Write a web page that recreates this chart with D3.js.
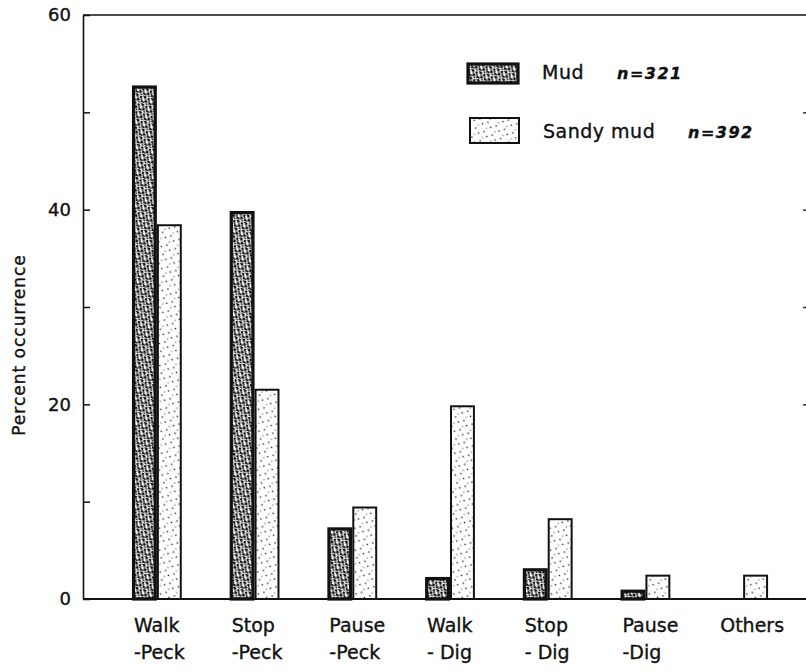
<!DOCTYPE html>
<html>
<head>
<meta charset="utf-8">
<script src="https://cdn.jsdelivr.net/npm/d3@7"></script>
<style>
  body { margin: 0; background: #fff; }
  text { font-family: 'DejaVu Sans', sans-serif; fill: #111; stroke: #111; stroke-width: 0.35; }
</style>
</head>
<body>
<div id="chart"></div>
<script>
// data
const categories = ['Walk\n-Peck', 'Stop\n-Peck', 'Pause\n-Peck', 'Walk\n- Dig', 'Stop\n- Dig', 'Pause\n-Dig', 'Others'];
const mudValues = [52.6, 39.7, 7.2, 2.1, 3.0, 0.8, 0];
const sandyValues = [38.4, 21.5, 9.4, 19.8, 8.2, 2.4, 2.4];
const seriesNames = ['Mud', 'Sandy mud'];
const seriesN = ['n=321', 'n=392'];
const yMajorTicks = [0, 20, 40, 60];
const yAllTicks = [0, 10, 20, 30, 40, 50, 60];
const rightTicks = [20, 30, 40, 50];

const W = 806, H = 672;
const axisX = 83;

const svg = d3.select('#chart').append('svg')
  .attr('width', W).attr('height', H)
  .style('display', 'block');

// textures for the stippled bars
const defs = svg.append('defs');
const mudPat = defs.append('pattern').attr('id', 'mud')
  .attr('patternUnits', 'userSpaceOnUse').attr('width', 8).attr('height', 8)
  .attr('patternTransform', 'rotate(17)');
mudPat.append('rect').attr('width', 8).attr('height', 8).attr('fill', '#fff');
[[1, 1, 1.5], [5, 2, 1.3], [3, 5, 1.6], [7, 6, 1.2], [0.5, 6.5, 1.1], [6, 4, 0.9], [2, 3, 0.8], [4.5, 7.5, 1.0], [7.5, 0.5, 0.8]]
  .forEach(([cx, cy, r]) => mudPat.append('circle').attr('cx', cx).attr('cy', cy).attr('r', r).attr('fill', '#111'));

const sandPat = defs.append('pattern').attr('id', 'sand')
  .attr('patternUnits', 'userSpaceOnUse').attr('width', 9).attr('height', 10)
  .attr('patternTransform', 'rotate(23)');
sandPat.append('rect').attr('width', 9).attr('height', 10).attr('fill', '#fff');
[[2, 2, 0.8], [6.5, 5.5, 0.8], [3, 8, 0.6]]
  .forEach(([cx, cy, r]) => sandPat.append('circle').attr('cx', cx).attr('cy', cy).attr('r', r).attr('fill', '#111'));

const fills = { 'Mud': 'url(#mud)', 'Sandy mud': 'url(#sand)' };
const strokes = { 'Mud': 3.2, 'Sandy mud': 2 };

const y = d3.scaleLinear().domain([0, 60]).range([599, 15]);
const x0 = d3.scaleBand().domain(categories).range([108, 792])
  .paddingInner(0.49).paddingOuter(0.245);
const x1 = d3.scaleBand().domain(seriesNames).range([0, x0.bandwidth()]);

// frame line on top
svg.append('line').attr('x1', axisX).attr('x2', W).attr('y1', y(60)).attr('y2', y(60))
  .attr('stroke', '#111').attr('stroke-width', 1.5);

// left axis with inward ticks
const yAxis = d3.axisLeft(y).tickValues(yAllTicks)
  .tickSizeInner(-7).tickSizeOuter(0).tickPadding(12)
  .tickFormat(d => yMajorTicks.includes(d) ? d : '');
const ga = svg.append('g').attr('transform', `translate(${axisX},0)`).call(yAxis);
ga.select('.domain').attr('stroke', '#111').attr('stroke-width', 1.6);
ga.selectAll('.tick line').attr('stroke', '#111').attr('stroke-width', 1.5);
ga.selectAll('.tick text').attr('font-size', 18).attr('font-family', 'DejaVu Sans').attr('fill', '#111');

// right axis, off the page; only its inward ticks show
const rAxis = d3.axisRight(y).tickValues(rightTicks).tickSizeInner(-5).tickSizeOuter(0).tickFormat('');
const gr = svg.append('g').attr('transform', `translate(${W + 2},0)`).call(rAxis);
gr.select('.domain').remove();
gr.selectAll('.tick line').attr('stroke', '#333').attr('stroke-width', 1.5);

// bars
const rows = categories.map((c, i) => ({ cat: c, vals: [mudValues[i], sandyValues[i]] }));
const groups = svg.append('g').selectAll('g').data(rows).enter().append('g')
  .attr('transform', d => `translate(${x0(d.cat)},0)`);
groups.selectAll('rect')
  .data(d => d.vals.map((v, j) => ({ key: seriesNames[j], v })).filter(b => b.v > 0))
  .enter().append('rect')
  .attr('x', b => x1(b.key) + strokes[b.key] / 2)
  .attr('y', b => y(b.v))
  .attr('width', b => x1.bandwidth() - strokes[b.key])
  .attr('height', b => y(0) - y(b.v))
  .attr('fill', b => fills[b.key])
  .attr('stroke', '#111')
  .attr('stroke-width', b => strokes[b.key]);

// baseline
svg.append('line').attr('x1', axisX).attr('x2', W).attr('y1', y(0)).attr('y2', y(0))
  .attr('stroke', '#111').attr('stroke-width', 2);

// category labels, left aligned at the group start
const lab = svg.append('g').selectAll('text').data(rows).enter().append('text')
  .attr('font-size', 19)
  .attr('x', d => x0(d.cat) + 2)
  .attr('y', 632);
lab.each(function (d) {
  const t = d3.select(this);
  d.cat.split('\n').forEach((ln, k) => {
    t.append('tspan').attr('x', t.attr('x')).attr('dy', k === 0 ? 0 : 27).text(ln);
  });
});

// y axis title
svg.append('text')
  .attr('transform', 'translate(25,345) rotate(-90)')
  .attr('text-anchor', 'middle')
  .attr('font-size', 17).attr('letter-spacing', 1)
  .text('Percent occurrence');

// legend
const legendRows = [
  { name: seriesNames[0], n: seriesN[0], sx: 468, sy: 64, sw: 50, sh: 19, tx: 542, nx: 617, ty: 79 },
  { name: seriesNames[1], n: seriesN[1], sx: 470, sy: 118, sw: 49, sh: 25, tx: 543, nx: 688, ty: 138 },
];
const lg = svg.append('g').selectAll('g').data(legendRows).enter().append('g');
lg.append('rect')
  .attr('x', d => d.sx).attr('y', d => d.sy).attr('width', d => d.sw).attr('height', d => d.sh)
  .attr('fill', d => fills[d.name]).attr('stroke', '#111').attr('stroke-width', d => strokes[d.name]);
lg.append('text').attr('x', d => d.tx).attr('y', d => d.ty)
  .attr('font-size', 19).attr('letter-spacing', 0.5).text(d => d.name);
lg.append('text').attr('x', d => d.nx).attr('y', d => d.ty)
  .attr('font-size', 16).attr('font-style', 'italic').attr('font-weight', 'bold')
  .attr('letter-spacing', 1.5).text(d => d.n);
</script>
</body>
</html>
